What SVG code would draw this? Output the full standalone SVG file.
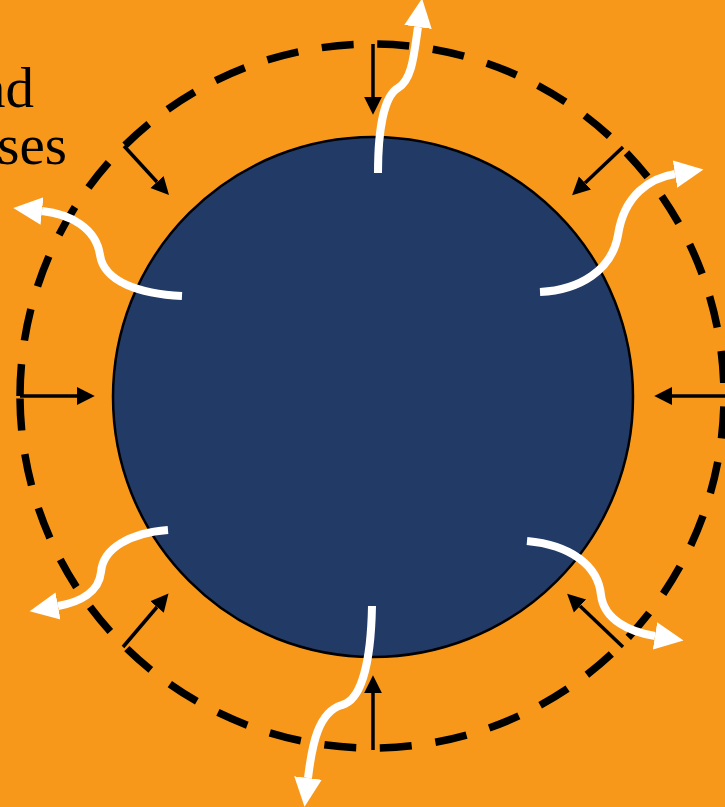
<svg xmlns="http://www.w3.org/2000/svg" width="725" height="807" viewBox="0 0 725 807">
  <defs>
    <marker id="wh" markerUnits="userSpaceOnUse" markerWidth="30" markerHeight="30" viewBox="0 -13 26 26" refX="0" refY="0" orient="auto">
      <path d="M0,-12 L25,0 L0,12 z" fill="#ffffff"/>
    </marker>
    <marker id="bh" markerUnits="userSpaceOnUse" markerWidth="20" markerHeight="20" viewBox="0 -9 18 18" refX="0" refY="0" orient="auto">
      <path d="M0,-8 L16,0 L0,8 z" fill="#000000"/>
    </marker>
    <style>
      .txt { font-family: "Liberation Serif", "Times New Roman", serif; font-size: 57px; fill: #000; }
      .blk { stroke: #000; stroke-width: 3.5; fill: none; marker-end: url(#bh); }
      .wht { stroke: #fff; stroke-width: 8; fill: none; marker-end: url(#wh); }
    </style>
  </defs>
  <rect x="0" y="0" width="725" height="807" fill="#F7981A"/>
  <g id="labels">
    <text class="txt" x="34" y="107" text-anchor="end">nd</text>
    <text class="txt" x="67" y="164" text-anchor="end">ses</text>
  </g>
  <g id="boundary">
    <path d="M 20 396 A 352 352 0 0 1 724 396 A 352 352 0 0 1 20 396" fill="none" stroke="#000" stroke-width="7.5" stroke-dasharray="32 23.8"/>
  </g>
  <g id="core">
    <circle cx="373" cy="397" r="260" fill="#213A66" stroke="#000" stroke-width="2.5"/>
  </g>
  <g id="connectors">
    <line class="blk" x1="373" y1="44" x2="373" y2="97"/>
    <line class="blk" x1="124" y1="146" x2="157" y2="182"/>
    <line class="blk" x1="623" y1="147" x2="585" y2="183"/>
    <line class="blk" x1="20" y1="396" x2="77" y2="396"/>
    <line class="blk" x1="725" y1="396" x2="672" y2="396"/>
    <line class="blk" x1="123" y1="647" x2="157" y2="607"/>
    <line class="blk" x1="623" y1="647" x2="580" y2="606"/>
    <line class="blk" x1="373" y1="750" x2="373" y2="693"/>
    <path class="wht" d="M378,173 C378,130 384,96 398,88 C412,80 414,55 418,27"/>
    <path class="wht" d="M540,292 C580,290 612,270 618,235 C624,195 650,178 675,174"/>
    <path class="wht" d="M182,296 C140,294 104,282 100,255 C96,228 70,214 42,211"/>
    <path class="wht" d="M168,530 C130,533 103,548 101,572 C99,592 80,602 58,606"/>
    <path class="wht" d="M527,541 C570,545 598,565 601,595 C604,620 630,632 655,636"/>
    <path class="wht" d="M372,606 C371,660 362,700 342,705 C318,712 312,745 308,778"/>
  </g>
</svg>
